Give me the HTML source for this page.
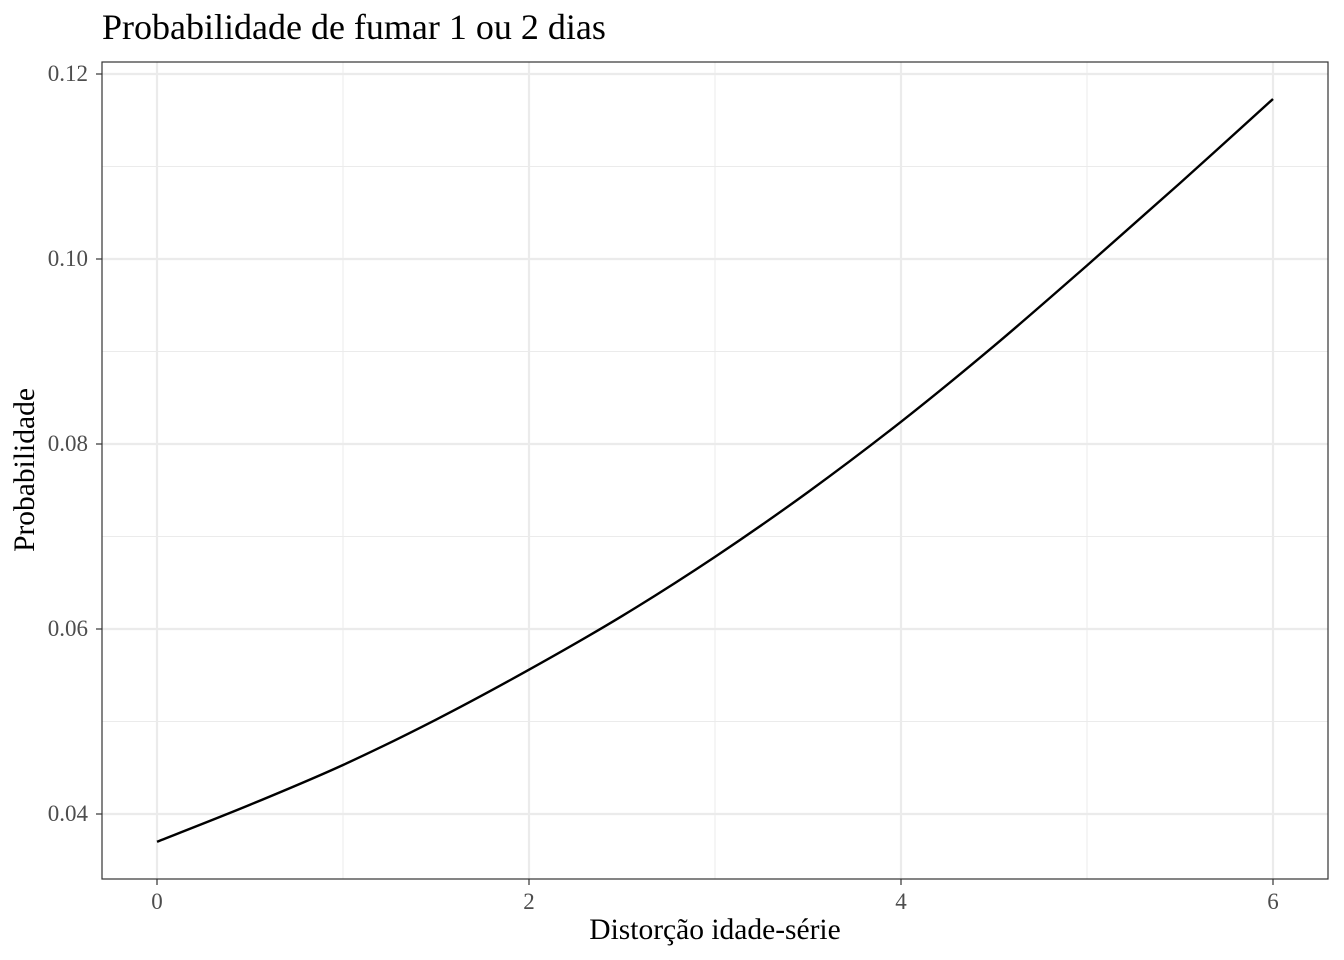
<!DOCTYPE html>
<html><head><meta charset="utf-8"><style>
body{margin:0;background:#fff}
svg{display:block;font-family:"Liberation Serif",serif}
</style></head><body>
<svg id="chart" width="1344" height="960" viewBox="0 0 1344 960"></svg>
<script>
const xValues=[0,0.5,1,1.5,2,2.5,3,3.5,4,4.5,5,5.5,6];
const yValues=[0.0370,0.0410,0.0453,0.0502,0.0556,0.0614,0.0678,0.0748,0.0824,0.0906,0.0993,0.1082,0.1173];
const xTicks=[0,2,4,6];
const xMinor=[1,3,5];
const yTicks=[0.04,0.06,0.08,0.10,0.12];
const yTickLabels=["0.04","0.06","0.08","0.10","0.12"];
const yMinor=[0.05,0.07,0.09,0.11];
const svg=document.getElementById('chart');
const NS='http://www.w3.org/2000/svg';
const L=102,R=1328,T=62,B=879;
const sx=v=>157+v*186;
const sy=v=>814-(v-0.04)*9250;
function mk(tag,attrs,text){const e=document.createElementNS(NS,tag);for(const k in attrs)e.setAttribute(k,attrs[k]);if(text!==undefined)e.textContent=text;svg.appendChild(e);return e;}
let e;
e=mk('rect',{x:L,y:T,width:R-L,height:B-T,fill:'#fff'});


xMinor.forEach(v=>{e=mk('line',{x1:sx(v),x2:sx(v),y1:T,y2:B,stroke:'#ebebeb','stroke-width':1});

});
yMinor.forEach(v=>{e=mk('line',{x1:L,x2:R,y1:sy(v),y2:sy(v),stroke:'#ebebeb','stroke-width':1});

});
xTicks.forEach(v=>{e=mk('line',{x1:sx(v),x2:sx(v),y1:T,y2:B,stroke:'#ebebeb','stroke-width':2.2});


e=mk('line',{x1:sx(v),x2:sx(v),y1:B,y2:B+6,stroke:'#333','stroke-width':1.2});


e=mk('text',{x:sx(v),y:909,'text-anchor':'middle','font-size':23,fill:'#4d4d4d'},String(v));

});
yTicks.forEach((v,i)=>{e=mk('line',{x1:L,x2:R,y1:sy(v),y2:sy(v),stroke:'#ebebeb','stroke-width':2.2});


e=mk('line',{x1:L-6,x2:L,y1:sy(v),y2:sy(v),stroke:'#333','stroke-width':1.2});


e=mk('text',{x:L-14,y:sy(v)+7,'text-anchor':'end','font-size':23,fill:'#4d4d4d'},yTickLabels[i]);

});
const pts=xValues.map((x,i)=>[sx(x),sy(yValues[i])]);
let d='M'+pts[0][0]+','+pts[0][1];
for(let i=0;i<pts.length-1;i++){
  const p0=pts[Math.max(i-1,0)],p1=pts[i],p2=pts[i+1],p3=pts[Math.min(i+2,pts.length-1)];
  const c1=[p1[0]+(p2[0]-p0[0])/6,p1[1]+(p2[1]-p0[1])/6];
  const c2=[p2[0]-(p3[0]-p1[0])/6,p2[1]-(p3[1]-p1[1])/6];
  d+=' C'+c1+' '+c2+' '+p2;
}
e=mk('path',{d:d,fill:'none',stroke:'#000','stroke-width':2.4,'stroke-linejoin':'round'});


e=mk('rect',{x:L,y:T,width:R-L,height:B-T,fill:'none',stroke:'#333','stroke-width':1.2});


e=mk('text',{x:102,y:39,'font-size':36,fill:'#000'},'Probabilidade de fumar 1 ou 2 dias');


e=mk('text',{x:715,y:939,'text-anchor':'middle','font-size':29.5,fill:'#000'},'Distorção idade-série');


e=mk('text',{x:0,y:0,'text-anchor':'middle','font-size':29.5,fill:'#000',transform:'translate(34,470) rotate(-90)'},'Probabilidade');


</script>
</body></html>
